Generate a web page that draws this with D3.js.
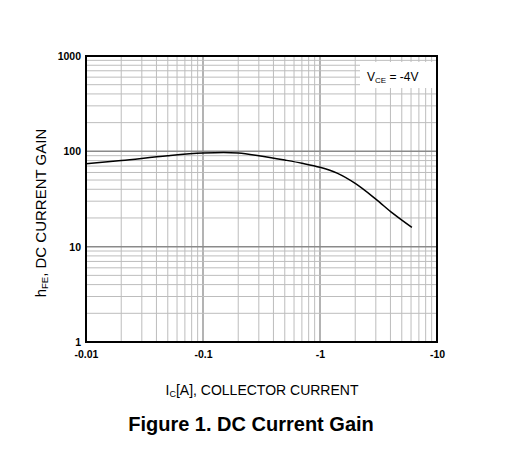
<!DOCTYPE html>
<html>
<head>
<meta charset="utf-8">
<script src="https://cdn.jsdelivr.net/npm/d3@7"></script>
<style>
  body { margin: 0; background: #fff; }
  text { font-family: "Liberation Sans", Arial, sans-serif; fill: #000; }
  .tick-label { font-size: 10.5px; font-weight: bold; }
</style>
</head>
<body>
<div id="chart"></div>
<script>
// Data (Ic in A magnitudes, hFE)
var icValues = [0.01, 0.02, 0.05, 0.1, 0.15, 0.2, 0.3, 0.5, 0.7, 1, 1.4, 2, 3, 4.2, 6.1];
var hfeValues = [74, 80, 90, 96, 97.5, 96, 90, 81, 75, 68, 59, 46, 31.5, 22.3, 15.9];

var xTicks = [0.01, 0.1, 1, 10];
var xTickLabels = ["-0.01", "-0.1", "-1", "-10"];
var yTicks = [1, 10, 100, 1000];
var yTickLabels = ["1", "10", "100", "1000"];

var width = 520, height = 468;
var margin = {top: 56, right: 83, bottom: 126, left: 86};

var svg = d3.select("#chart").append("svg")
    .attr("width", width)
    .attr("height", height);

var xScale = d3.scaleLog()
    .domain([0.01, 10])
    .range([margin.left, width - margin.right]);

var yScale = d3.scaleLog()
    .domain([1, 1000])
    .range([height - margin.bottom, margin.top]);

// Grid lines: every 1..9 multiple within each decade
var gridX = [], gridY = [];
[0.01, 0.1, 1].forEach(function(dec) {
    for (var i = 1; i <= 9; i++) gridX.push({v: dec * i, major: i === 1});
});
[1, 10, 100].forEach(function(dec) {
    for (var i = 1; i <= 9; i++) gridY.push({v: dec * i, major: i === 1});
});

var grid = svg.append("g").attr("class", "grid");

grid.selectAll("line.gx")
    .data(gridX)
    .enter()
    .append("line")
    .attr("class", "gx")
    .attr("x1", function(d) { return xScale(d.v); })
    .attr("x2", function(d) { return xScale(d.v); })
    .attr("y1", yScale(1))
    .attr("y2", yScale(1000))
    .attr("stroke", function(d) { return d.major ? "#8a8a8a" : "#bdbdbd"; })
    .attr("stroke-width", function(d) { return d.major ? 1.3 : 1; });

grid.selectAll("line.gy")
    .data(gridY)
    .enter()
    .append("line")
    .attr("class", "gy")
    .attr("x1", xScale(0.01))
    .attr("x2", xScale(10))
    .attr("y1", function(d) { return yScale(d.v); })
    .attr("y2", function(d) { return yScale(d.v); })
    .attr("stroke", function(d) { return d.major ? "#8a8a8a" : "#bdbdbd"; })
    .attr("stroke-width", function(d) { return d.major ? 1.5 : 1; });

// Legend box covering the grid
var legend = svg.append("g");
legend.append("rect")
    .attr("x", 360)
    .attr("y", 62)
    .attr("width", xScale(10) - 361)
    .attr("height", 26)
    .attr("fill", "#fff");
var legText = legend.append("text")
    .attr("x", 367)
    .attr("y", 81)
    .style("font-size", "12px");
legText.append("tspan").text("V");
legText.append("tspan").style("font-size", "8px").attr("dy", 1.5).text("CE");
legText.append("tspan").attr("dy", -1.5).text(" = -4V");

// Curve
var line = d3.line()
    .curve(d3.curveMonotoneX)
    .x(function(d, i) { return xScale(icValues[i]); })
    .y(function(d, i) { return yScale(hfeValues[i]); });

svg.append("path")
    .datum(icValues)
    .attr("d", line)
    .attr("fill", "none")
    .attr("stroke", "#000")
    .attr("stroke-width", 1.5);

// Frame
svg.append("rect")
    .attr("x", xScale(0.01))
    .attr("y", yScale(1000))
    .attr("width", xScale(10) - xScale(0.01))
    .attr("height", yScale(1) - yScale(1000))
    .attr("fill", "none")
    .attr("stroke", "#000")
    .attr("stroke-width", 2);

// Axes (labels only)
var xAxis = d3.axisBottom(xScale)
    .tickValues(xTicks)
    .tickSize(0)
    .tickPadding(9)
    .tickFormat(function(d, i) { return xTickLabels[i]; });

var gx = svg.append("g")
    .attr("class", "x-axis")
    .attr("transform", "translate(0," + yScale(1) + ")")
    .call(xAxis);
gx.select(".domain").remove();
gx.selectAll("text").attr("class", "tick-label").attr("fill", "#000");

var yAxis = d3.axisLeft(yScale)
    .tickValues(yTicks)
    .tickSize(0)
    .tickPadding(5)
    .tickFormat(function(d, i) { return yTickLabels[i]; });

var gy = svg.append("g")
    .attr("class", "y-axis")
    .attr("transform", "translate(" + xScale(0.01) + ",0)")
    .call(yAxis);
gy.select(".domain").remove();
gy.selectAll("text").attr("class", "tick-label").attr("fill", "#000");

// Axis titles
var xTitle = svg.append("text")
    .attr("x", 262)
    .attr("y", 395)
    .attr("text-anchor", "middle")
    .style("font-size", "14px");
xTitle.append("tspan").text("I");
xTitle.append("tspan").style("font-size", "9px").attr("dy", 2).text("C");
xTitle.append("tspan").attr("dy", -2).text("[A], COLLECTOR CURRENT");

var yTitle = svg.append("text")
    .attr("transform", "translate(46,213)rotate(-90)")
    .attr("text-anchor", "middle")
    .style("font-size", "15px");
yTitle.append("tspan").text("h");
yTitle.append("tspan").style("font-size", "9.5px").attr("dy", 2).text("FE");
yTitle.append("tspan").attr("dy", -2).text(", DC CURRENT GAIN");

svg.append("text")
    .attr("x", 251)
    .attr("y", 431)
    .attr("text-anchor", "middle")
    .style("font-size", "20px")
    .style("font-weight", "bold")
    .text("Figure 1. DC Current Gain");
</script>
</body>
</html>
